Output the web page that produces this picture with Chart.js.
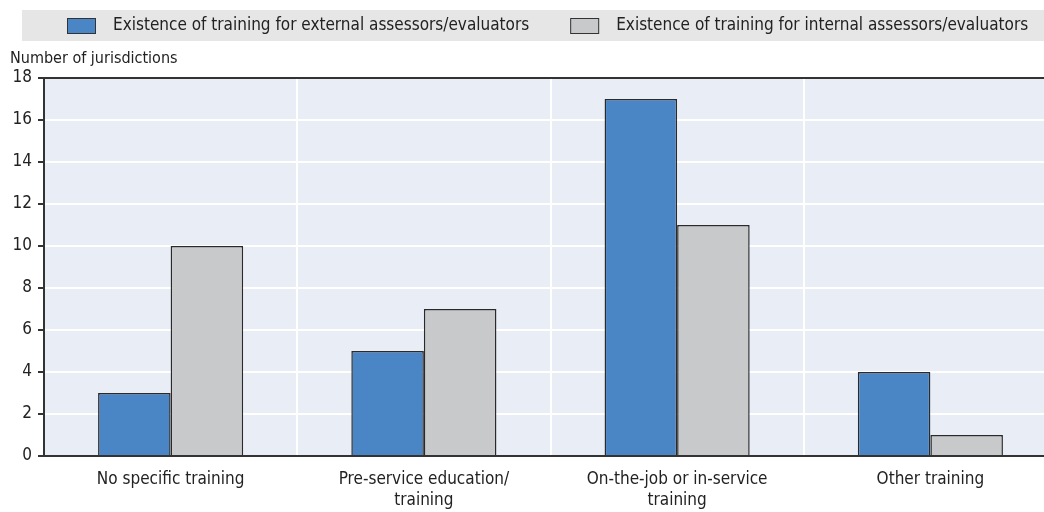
<!DOCTYPE html>
<html>
<head>
<meta charset="utf-8">
<script src="https://cdn.jsdelivr.net/npm/chart.js@4"></script>
<style>
  html, body { margin: 0; padding: 0; background: #fff; overflow: hidden; }
  #wrap { position: relative; width: 1044px; height: 512px; overflow: hidden; }
</style>
</head>
<body>
<div id="wrap"><canvas id="myChart" width="1057" height="512"></canvas></div>
<script>
const categories = [
  "No specific training",
  ["Pre-service education/", "training"],
  ["On-the-job or in-service", "training"],
  "Other training"
];
const seriesNames = [
  "Existence of training for external assessors/evaluators",
  "Existence of training for internal assessors/evaluators"
];
const externalValues = [3, 5, 17, 4];
const internalValues = [10, 7, 11, 1];
const yTicks = [0, 2, 4, 6, 8, 10, 12, 14, 16, 18];
const yTitle = "Number of jurisdictions";

const FONT = "'Liberation Sans Narrow', 'DejaVu Sans Condensed', 'Arial Narrow', sans-serif";

// legend box + axis title drawn on canvas
const decorations = {
  id: "decorations",
  beforeDraw(chart) {
    const c = chart.ctx;
    c.save();
    c.fillStyle = "#e6e6e6";
    c.fillRect(22, 10, 1022, 31);
    c.font = "17px " + FONT;
    c.textBaseline = "middle";
    let x = 67;
    chart.data.datasets.forEach((ds, i) => {
      c.fillStyle = ds.backgroundColor;
      c.fillRect(x, 18, 29, 16);
      c.strokeStyle = "#333";
      c.lineWidth = 1;
      c.strokeRect(x + 0.5, 18.5, 28, 15);
      c.fillStyle = "#222";
      c.fillText(ds.label, x + 46, 26);
      x += 46 + c.measureText(ds.label).width + 41;
    });
    c.font = "16px " + FONT;
    c.fillStyle = "#222";
    c.fillText(yTitle, 10, 59);
    c.restore();
  },
  afterDatasetsDraw(chart) {
    // dark top border of plot
    const a = chart.chartArea;
    const c = chart.ctx;
    c.save();
    c.strokeStyle = "#333";
    c.lineWidth = 2;
    c.beginPath();
    c.moveTo(a.left, a.top);
    c.lineTo(a.right, a.top);
    c.stroke();
    c.restore();
  }
};

const plotBg = {
  id: "plotBg",
  beforeDraw(chart) {
    const a = chart.chartArea;
    chart.ctx.save();
    chart.ctx.fillStyle = "#e9edf6";
    chart.ctx.fillRect(a.left, a.top, a.right - a.left, a.bottom - a.top);
    chart.ctx.restore();
  }
};

new Chart(document.getElementById("myChart").getContext("2d"), {
  type: "bar",
  data: {
    labels: categories,
    datasets: [
      {
        label: seriesNames[0],
        data: externalValues,
        backgroundColor: "#4a86c5",
        borderColor: "#2a2a2a",
        borderWidth: 1.5
      },
      {
        label: seriesNames[1],
        data: internalValues,
        backgroundColor: "#c8c9cb",
        borderColor: "#2a2a2a",
        borderWidth: 1.5
      }
    ]
  },
  options: {
    responsive: false,
    animation: false,
    layout: { padding: { top: 78, right: 0, left: 0, bottom: 0 } },
    categoryPercentage: 0.573,
    barPercentage: 1,
    plugins: {
      legend: { display: false },
      tooltip: { enabled: false }
    },
    scales: {
      x: {
        afterFit(axis) { axis.height = 56; },
        grid: { color: "#fff", lineWidth: 2, drawTicks: false, offset: true },
        border: { color: "#333", width: 2 },
        ticks: { color: "#222", font: { family: FONT, size: 17, lineHeight: 1.18 }, padding: 14, maxRotation: 0 }
      },
      y: {
        min: 0,
        max: 18,
        afterBuildTicks(axis) { axis.ticks = yTicks.map(v => ({ value: v })); },
        afterFit(axis) { axis.width = 44; },
        grid: {
          color: ctx => (ctx.tick && ctx.tick.value === 18 ? "#333" : "#fff"),
          lineWidth: 2,
          tickColor: "#333",
          tickLength: 6
        },
        border: { color: "#333", width: 2 },
        ticks: { color: "#222", font: { family: FONT, size: 17 }, padding: 6 }
      }
    }
  },
  plugins: [plotBg, decorations]
});
</script>
</body>
</html>
